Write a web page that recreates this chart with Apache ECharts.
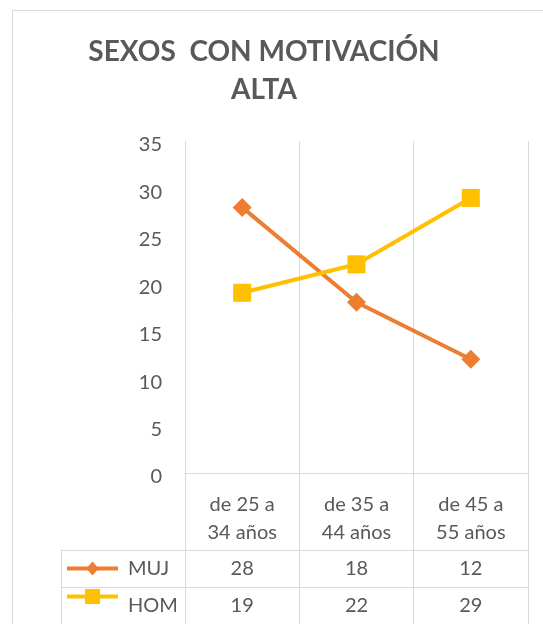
<!DOCTYPE html>
<html>
<head>
<meta charset="utf-8">
<style>
    html, body { margin: 0; padding: 0; background: #fff; }
    #main { width: 543px; height: 624px; }
</style>
<script src="https://cdn.jsdelivr.net/npm/echarts@6/dist/echarts.min.js"></script>
</head>
<body>
<div id="main"></div>
<script type="text/javascript">
    // datos de la tabla
    var categories = ['de 25 a\n34 años', 'de 35 a\n44 años', 'de 45 a\n55 años'];
    var mujValues = [28, 18, 12];
    var homValues = [19, 22, 29];
    var seriesNames = ['MUJ', 'HOM'];
    var seriesColors = ['#ED7D31', '#FFC000'];
    var seriesSymbols = ['diamond', 'rect'];

    var font = 'Lato, "Open Sans", sans-serif';
    var textColor = '#595959';
    var lineColor = '#d9d9d9';

    var myChart = echarts.init(document.getElementById('main'));

    var option = {
        animation: false,
        title: {
            text: 'SEXOS  CON MOTIVACIÓN\nALTA',
            left: 259,
            textAlign: 'center',
            top: 28,
            textStyle: {
                fontFamily: font,
                fontSize: 28,
                fontWeight: 'bold',
                color: textColor,
                lineHeight: 38
            }
        },
        grid: [
            { left: 185, right: 15, top: 141, bottom: 151 },
            { left: 185, right: 15, top: 473, bottom: 0 }
        ],
        xAxis: [
            {
                type: 'category',
                gridIndex: 0,
                data: categories,
                offset: 11,
                axisLine: { show: true, lineStyle: { color: lineColor, width: 1 } },
                axisTick: { show: false },
                axisLabel: {
                    fontFamily: font,
                    fontSize: 20,
                    color: textColor,
                    lineHeight: 28,
                    margin: 7
                },
                splitLine: { show: true, lineStyle: { color: lineColor, width: 1 } }
            },
            {
                type: 'category',
                gridIndex: 1,
                data: categories,
                axisLine: { show: false },
                axisTick: { show: false },
                axisLabel: { show: false },
                splitLine: { show: true, lineStyle: { color: lineColor, width: 1 } }
            }
        ],
        yAxis: [
            {
                type: 'value',
                gridIndex: 0,
                min: 0,
                max: 35,
                interval: 5,
                axisLine: { show: false },
                axisTick: { show: false },
                splitLine: { show: false },
                axisLabel: {
                    fontFamily: font,
                    fontSize: 20,
                    color: textColor,
                    margin: 23,
                    verticalAlign: 'top',
                    lineHeight: 8
                }
            },
            {
                type: 'value',
                gridIndex: 1,
                show: false
            }
        ],
        series: [
            {
                name: seriesNames[0],
                type: 'line',
                data: mujValues,
                symbol: seriesSymbols[0],
                symbolSize: 19,
                lineStyle: { color: seriesColors[0], width: 4 },
                itemStyle: { color: seriesColors[0] }
            },
            {
                name: seriesNames[1],
                type: 'line',
                data: homValues,
                symbol: seriesSymbols[1],
                symbolSize: 18,
                lineStyle: { color: seriesColors[1], width: 4 },
                itemStyle: { color: seriesColors[1] }
            }
        ]
    };

    myChart.setOption(option);

    // tabla de datos bajo el eje (filas MUJ / HOM)
    var rowTops = [550, 587];
    var rowHeight = 37;
    var tableLeft = 61;
    var keyLeft = 67, keyRight = 118, nameLeft = 128;
    var plotRight = 528;
    var rowValues = [mujValues, homValues];

    var graphics = [
        {
            type: 'rect', z: -1, silent: true,
            shape: { x: 12.5, y: 10.5, width: 700, height: 800 },
            style: { fill: 'none', stroke: lineColor, lineWidth: 1 }
        },
        {
            type: 'line', silent: true,
            shape: { x1: tableLeft + 0.5, y1: rowTops[0], x2: tableLeft + 0.5, y2: 624 },
            style: { stroke: lineColor, lineWidth: 1 }
        }
    ];

    rowTops.forEach(function (top, r) {
        graphics.push({
            type: 'line', silent: true,
            shape: { x1: tableLeft, y1: top + 0.5, x2: plotRight, y2: top + 0.5 },
            style: { stroke: lineColor, lineWidth: 1 }
        });
        var cy = top + rowHeight / 2;
        var ky = r === 1 ? cy - 9 : cy;
        // clave de leyenda
        graphics.push({
            type: 'line', silent: true,
            shape: { x1: keyLeft, y1: ky, x2: keyRight, y2: ky },
            style: { stroke: seriesColors[r], lineWidth: 4 }
        });
        var mid = (keyLeft + keyRight) / 2;
        if (seriesSymbols[r] === 'diamond') {
            var sz = 14;
            graphics.push({
                type: 'polygon', silent: true,
                shape: { points: [[mid, ky - sz / 2], [mid + sz / 2 - 1, ky], [mid, ky + sz / 2], [mid - sz / 2 + 1, ky]] },
                style: { fill: seriesColors[r] }
            });
        } else {
            var sq = 15;
            graphics.push({
                type: 'rect', silent: true,
                shape: { x: mid - sq / 2, y: ky - sq / 2, width: sq, height: sq },
                style: { fill: seriesColors[r] }
            });
        }
        graphics.push({
            type: 'text', silent: true,
            x: nameLeft, y: cy,
            style: {
                text: seriesNames[r], fontFamily: font, fontSize: 20, fill: textColor,
                align: 'left', verticalAlign: 'middle'
            }
        });
        rowValues[r].forEach(function (v, i) {
            var px = myChart.convertToPixel({ xAxisIndex: 0 }, i);
            graphics.push({
                type: 'text', silent: true,
                x: px, y: cy,
                style: {
                    text: String(v), fontFamily: font, fontSize: 20, fill: textColor,
                    align: 'center', verticalAlign: 'middle'
                }
            });
        });
    });

    myChart.setOption({ graphic: graphics });
</script>
</body>
</html>
